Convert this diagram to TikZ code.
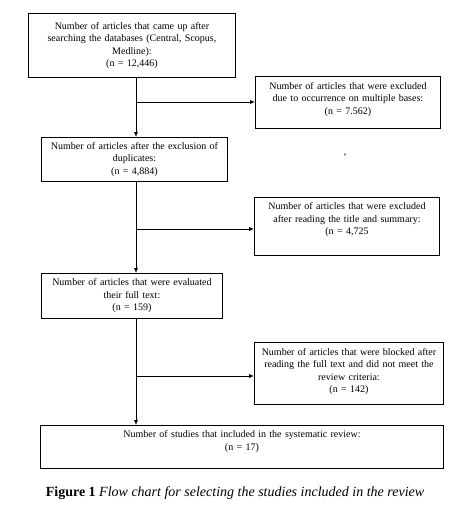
\documentclass[tikz,border=0pt]{standalone}
\usepackage{fontspec}
\setmainfont{Liberation Serif}
\usepackage{xcolor}
\usetikzlibrary{arrows.meta,positioning,calc}
\newcommand{\padbelow}[1]{\rule[-#1]{0pt}{#1}}

\begin{document}
\begin{tikzpicture}[
        x=1pt, y=-1pt,
        box/.style={draw, line width=0.9pt, anchor=north west, align=center, inner sep=2pt, font=\fontsize{10}{12.5}\selectfont},
        arr/.style={-{Latex[length=5pt,width=4.5pt]}, line width=1pt}
    ]
    \useasboundingbox (0,0) rectangle (460,511);

    \node[box, minimum width=207pt, minimum height=64pt, text width=200pt] (found) at (28,13)
        {Number of articles that came up after\\searching the databases (Central, Scopus,\\Medline):\\(n = 12,446)};
    \node[box, minimum width=185pt, minimum height=52pt, text width=179pt] (dupes) at (255,76)
        {Number of articles that were excluded\\due to occurrence on multiple bases:\\(n = 7.562)\padbelow{8pt}};
    \node[box, minimum width=186pt, minimum height=44pt, text width=180pt] (unique) at (41,137)
        {Number of articles after the exclusion of\\duplicates:\\(n = 4,884)};
    \node[box, minimum width=185pt, minimum height=58pt, text width=179pt] (titles) at (254,197)
        {Number of articles that were excluded\\after reading the title and summary:\\(n = 4,725\padbelow{15pt}};
    \node[box, minimum width=181pt, minimum height=45pt, text width=175pt] (fulltext) at (41,273)
        {Number of articles that were evaluated\\their full text:\\(n = 159)};
    \node[box, minimum width=189pt, minimum height=62pt, text width=183pt] (blocked) at (254,342)
        {Number of articles that were blocked after\\reading the full text and did not meet the\\review criteria:\\(n = 142)\padbelow{6pt}};
    \node[box, minimum width=403pt, minimum height=43pt, text width=397pt] (included) at (40,425)
        {Number of studies that included in the systematic review:\\(n = 17)\padbelow{13pt}};

    \node[font=\fontsize{10}{12}\selectfont, inner sep=0pt] (speck) at (345,157) {'};

    \node[font=\fontsize{14}{16}\selectfont, inner sep=0pt] (caption) at (235,493)
        {\textbf{Figure 1} \textit{Flow chart for selecting the studies included in the review}};

    % trunk and branch points
    \coordinate (trunk) at (136,0);
    \coordinate (split1) at (136,102);
    \coordinate (split2) at (136,229);
    \coordinate (split3) at (136,376);

    \draw[arr] (found.south -| trunk) -- (unique.north -| trunk);
    \draw[arr] (unique.south -| trunk) -- (fulltext.north -| trunk);
    \draw[arr] (fulltext.south -| trunk) -- (included.north -| trunk);
    \draw[arr] (split1) -- (dupes.west |- split1);
    \draw[arr] (split2) -- (titles.west |- split2);
    \draw[arr] (split3) -- (blocked.west |- split3);
\end{tikzpicture}
\end{document}
